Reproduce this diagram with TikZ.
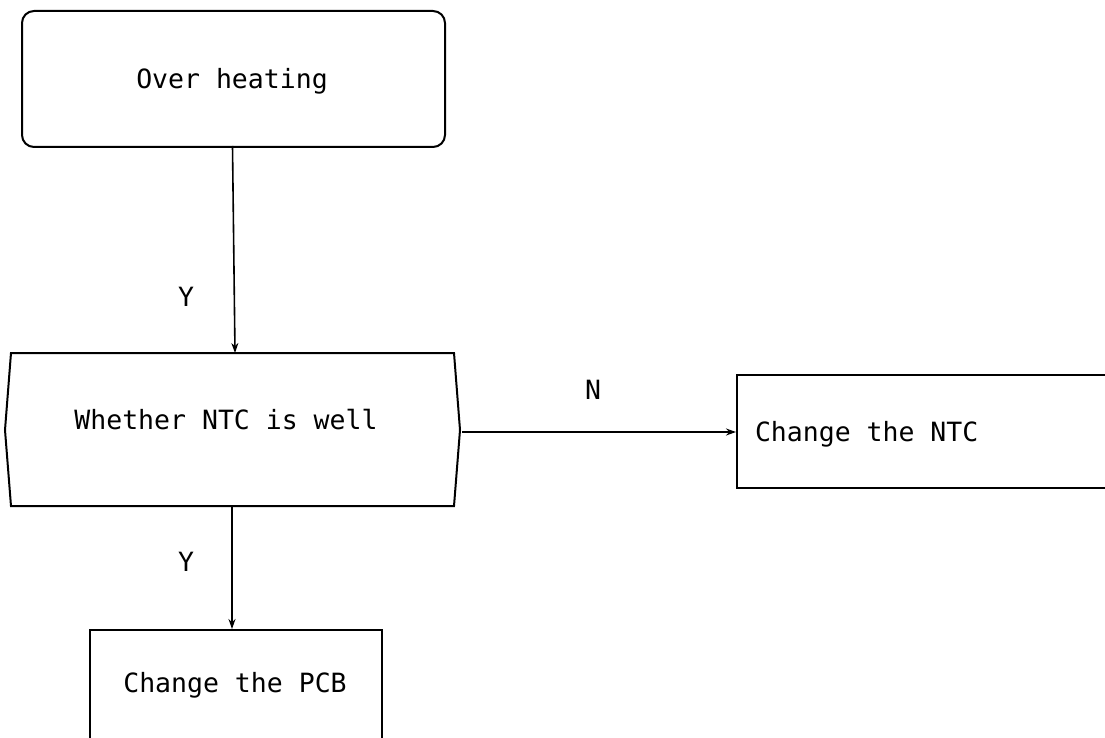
\documentclass[tikz,border=0pt]{standalone}
\usepackage{fontspec}
\newfontfamily\diagfont{DejaVu Sans Mono}
\usetikzlibrary{arrows.meta}
\begin{document}
\begin{tikzpicture}[x=1pt,y=-1pt,
  line width=2pt,
  txt/.style={font=\diagfont\fontsize{26.5}{30}\selectfont, inner sep=0pt},
  lbl/.style={font=\diagfont\fontsize{26.5}{30}\selectfont, inner sep=0pt},
  box/.style={draw, rectangle, inner sep=0pt},
  arr/.style={-{Stealth[length=10pt,width=7pt]}, line width=1.6pt}]
\useasboundingbox (0,0) rectangle (1105,738);
\clip (0,0) rectangle (1105,738);
% Over heating
\node[box, rounded corners=12pt, minimum width=423pt, minimum height=136pt, anchor=north west] (oh) at (21,10) {};
\node[txt] (ohtxt) at (232,81) {Over heating};
% Hexagon
\coordinate (htl) at (11,353);
\coordinate (htr) at (454,353);
\coordinate (hr) at (460,430);
\coordinate (hbr) at (454,506);
\coordinate (hbl) at (11,506);
\coordinate (hl) at (5,430);
\draw (htl) -- (htr) -- (hr) -- (hbr) -- (hbl) -- (hl) -- cycle;
\node[txt] (ntctxt) at (226,420) {Whether NTC is well};
\coordinate (htop) at (235,353);
\coordinate (hbot) at (232,506);
\coordinate (hright) at (462,432);
% Change NTC
\node[box, minimum width=500pt, minimum height=113pt, anchor=north west] (ntc) at (736,374) {};
\node[txt, anchor=west] (ntcl) at (754,434) {Change the NTC};
% Change PCB
\node[box, minimum width=292pt, minimum height=160pt, anchor=north west] (pcb) at (89,629) {};
\node[txt] (pcbl) at (235,685) {Change the PCB};
% connectors
\coordinate (ohb) at (232.5,146);
\draw[arr] (ohb) -- (htop);
\draw[arr] (hright) -- (ntc.west |- hright);
\draw[arr] (hbot) -- (hbot |- pcb.north);
% labels
\node[lbl] (y1) at (186,297) {Y};
\node[lbl] (y2) at (186,562) {Y};
\node[lbl] (n1) at (593,390) {N};
\end{tikzpicture}
\end{document}
